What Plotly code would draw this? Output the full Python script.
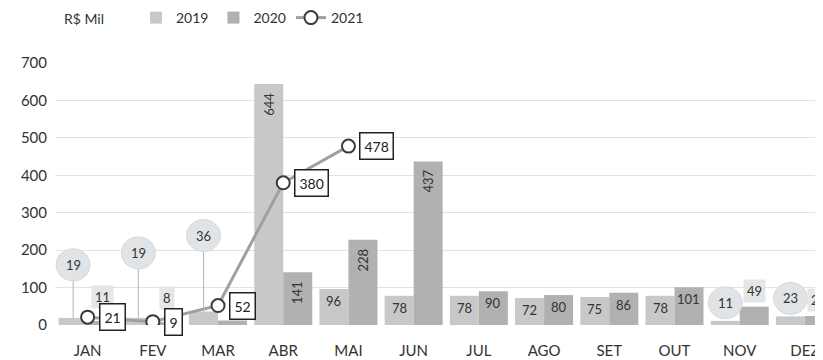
import plotly.graph_objects as go

months = ["JAN", "FEV", "MAR", "ABR", "MAI", "JUN", "JUL", "AGO", "SET", "OUT", "NOV", "DEZ"]
v2019 = [19, 19, 36, 644, 96, 78, 78, 72, 75, 78, 11, 23]
v2020 = [11, 8, 12, 141, 228, 437, 90, 80, 86, 101, 49, 24]
v2021 = [21, 9, 52, 380, 478]
label2020_show = [True, True, False, True, True, True, True, True, True, True, True, True]
yticks = [0, 100, 200, 300, 400, 500, 600, 700]

FONT = "Lato, 'Open Sans', sans-serif"
C19 = "#c8c8c8"
C20 = "#b1b1b1"
TXT = "#333333"
OFF = 0.222  # half bar slot offset in category units

# style: callout lifts (pixels) for small bars
lift19 = {0: 53, 1: 65, 2: 76, 10: 18, 11: 18}
lift20 = {0: 24, 1: 24, 10: 16, 11: 16}

xs = list(range(len(months)))

fig = go.Figure()
fig.add_trace(go.Bar(name="2019", x=xs, y=v2019, marker=dict(color=C19, line=dict(width=0))))
fig.add_trace(go.Bar(name="2020", x=xs, y=v2020, marker=dict(color=C20, line=dict(width=0))))
fig.add_trace(go.Scatter(
    name="2021", x=xs[:len(v2021)], y=v2021, mode="lines+markers",
    line=dict(color="#a0a0a0", width=3),
    marker=dict(size=13, color="white", line=dict(color="#3a3a3a", width=2)),
))

shapes = []
ann = []

def bar_label(xc, v, lift, style):
    if lift is not None:
        if style == "circle":
            if lift > 25:
                shapes.append(dict(type="line", xref="x", yref="y", xsizemode="pixel", ysizemode="pixel",
                                   xanchor=xc, yanchor=v, x0=0, x1=0, y0=0, y1=lift - 15,
                                   line=dict(color="#b5b5b5", width=1)))
            shapes.append(dict(type="circle", xref="x", yref="y", xsizemode="pixel", ysizemode="pixel",
                               xanchor=xc, yanchor=v, x0=-17, x1=17, y0=lift - 16, y1=lift + 16,
                               fillcolor="#e1e4e7", line=dict(color="#d6d9dc", width=1), layer="above"))
            ann.append(dict(x=xc, y=v, yshift=lift, text=str(v), showarrow=False,
                            font=dict(size=13, color=TXT, family=FONT)))
        else:
            ann.append(dict(x=xc, y=v, yshift=lift, text=str(v), showarrow=False, bgcolor="#e4e6e8",
                            borderpad=3, font=dict(size=13, color=TXT, family=FONT)))
    elif v >= 120:
        ann.append(dict(x=xc, y=v, yshift=-20, text=str(v), textangle=-90, showarrow=False,
                        font=dict(size=13, color=TXT, family=FONT)))
    else:
        ann.append(dict(x=xc, y=v, yshift=-12, text=str(v), showarrow=False,
                        font=dict(size=13, color=TXT, family=FONT)))

for i, v in enumerate(v2019):
    bar_label(i - OFF, v, lift19.get(i), "circle")
for i, v in enumerate(v2020):
    if label2020_show[i]:
        bar_label(i + OFF, v, lift20.get(i), "box")

for i, v in enumerate(v2021):
    ann.append(dict(x=i, y=v, xanchor="left", xshift=11, text=str(v), showarrow=False,
                    bgcolor="white", bordercolor="#222222", borderwidth=1.5, borderpad=4,
                    font=dict(size=14, color="#222222", family=FONT)))

# page body adds an 8px offset; margins compensate
T, B, L = 55, 43, 47
PH = 360 - T - B
ann.append(dict(xref="paper", yref="paper", x=(54 - L) / (823 - L), y=1 + (T - 10) / PH,
                xanchor="left", yanchor="middle",
                text="R$ Mil", showarrow=False, font=dict(size=14, color=TXT, family=FONT)))

fig.update_layout(
    width=823, height=360,
    margin=dict(l=L, r=0, t=T, b=B, autoexpand=False),
    paper_bgcolor="white", plot_bgcolor="white",
    barmode="group", bargap=0.11, bargroupgap=0,
    font=dict(family=FONT, color=TXT),
    shapes=shapes,
    annotations=ann,
    legend=dict(orientation="h", x=(128 - L) / (823 - L), y=1 - 10 / 360, yref="container",
                xanchor="left", yanchor="middle",
                font=dict(size=14, color=TXT, family=FONT), itemwidth=30,
                bgcolor="rgba(0,0,0,0)"),
    xaxis=dict(range=[-0.5, 11.4], tickmode="array", tickvals=xs, ticktext=months,
               showgrid=False, zeroline=False, showline=False, ticks="outside", ticklen=12,
               tickcolor="rgba(0,0,0,0)", automargin=False,
               tickfont=dict(size=15, color=TXT, family=FONT)),
    yaxis=dict(range=[0, 700], tickmode="array", tickvals=yticks, showgrid=True,
               gridcolor="#e2e2e2", gridwidth=1, zeroline=False, showline=False, ticks="outside",
               ticklen=4, tickcolor="rgba(0,0,0,0)", automargin=False,
               tickfont=dict(size=15, color=TXT, family=FONT)),
)

fig.write_html("out.html")
